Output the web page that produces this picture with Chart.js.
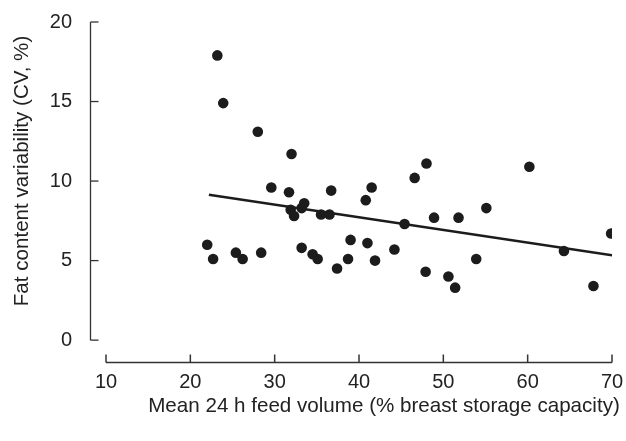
<!DOCTYPE html>
<html>
<head>
<meta charset="utf-8">
<script src="https://cdn.jsdelivr.net/npm/chart.js@4/dist/chart.umd.min.js"></script>
<style>
  html, body { margin: 0; padding: 0; background: #fff; }
  #wrap { width: 626px; height: 441px; position: relative; }
</style>
</head>
<body>
<div id="wrap"><canvas id="c" width="626" height="441"></canvas></div>
<script>
// Mean 24 h feed volume (% breast storage capacity)
const feedVolume = [23.2, 23.9, 28.0, 32.0, 29.6, 31.7, 36.7, 41.5, 40.8, 33.5,
                    33.2, 31.9, 32.3, 35.5, 36.5, 33.2, 34.5, 35.1, 39.0, 41.0,
                    38.7, 37.4, 41.9, 48.0, 46.6, 48.9, 51.8, 45.4, 44.2, 47.9,
                    50.6, 51.4, 53.9, 55.1, 60.2, 69.9, 64.3, 67.8, 22.0, 22.7,
                    25.4, 26.2, 28.4];
// Fat content variability (CV, %)
const fatCV = [17.9, 14.9, 13.1, 11.7, 9.6, 9.3, 9.4, 9.6, 8.8, 8.6,
               8.3, 8.2, 7.8, 7.9, 7.9, 5.8, 5.4, 5.1, 6.3, 6.1,
               5.1, 4.5, 5.0, 11.1, 10.2, 7.7, 7.7, 7.3, 5.7, 4.3,
               4.0, 3.3, 5.1, 8.3, 10.9, 6.7, 5.6, 3.4, 6.0, 5.1,
               5.5, 5.1, 5.5];
// Regression line end points
const fitX = [22.2, 70.0];
const fitY = [9.14, 5.33];
// Axis ticks
const xTicks = [10, 20, 30, 40, 50, 60, 70];
const yTicks = [0, 5, 10, 15, 20];
const xTitle = 'Mean 24 h feed volume (% breast storage capacity)';
const yTitle = 'Fat content variability (CV, %)';

const ink = '#1c1c1c';
const FONT = '"Liberation Sans", Arial, Helvetica, sans-serif';

const axesPlugin = {
  id: 'axesPlugin',
  afterDraw(chart) {
    const ctx = chart.ctx;
    const xs = chart.scales.x, ys = chart.scales.y;
    const ca = chart.chartArea;
    ctx.save();
    ctx.strokeStyle = '#333';
    ctx.lineWidth = 1.3;
    ctx.lineCap = 'butt';
    // y axis line
    const yx = ca.left + 0.5;
    const yTop = ys.getPixelForValue(yTicks[yTicks.length - 1]);
    const yBot = ys.getPixelForValue(yTicks[0]);
    ctx.beginPath();
    ctx.moveTo(yx, yTop);
    ctx.lineTo(yx, yBot);
    ctx.stroke();
    yTicks.forEach(v => {
      const p = ys.getPixelForValue(v);
      ctx.beginPath();
      ctx.moveTo(yx, p);
      ctx.lineTo(yx + 8, p);
      ctx.stroke();
    });
    // x axis line
    const xy = ca.bottom + 0.5;
    const xL = xs.getPixelForValue(xTicks[0]);
    const xR = xs.getPixelForValue(xTicks[xTicks.length - 1]);
    ctx.lineWidth = 1.5;
    ctx.beginPath();
    ctx.moveTo(xL, xy);
    ctx.lineTo(xR, xy);
    ctx.stroke();
    xTicks.forEach(v => {
      const p = xs.getPixelForValue(v);
      ctx.beginPath();
      ctx.moveTo(p, xy);
      ctx.lineTo(p, xy - 8);
      ctx.stroke();
    });
    // titles
    ctx.fillStyle = '#222';
    ctx.font = '20.6px ' + FONT;
    ctx.textAlign = 'center';
    ctx.textBaseline = 'middle';
    ctx.fillText(xTitle, 384, 406);
    ctx.save();
    ctx.translate(22, 171);
    ctx.rotate(-Math.PI / 2);
    ctx.fillText(yTitle, 0, 0);
    ctx.restore();
    ctx.restore();
  }
};

new Chart(document.getElementById('c'), {
  type: 'scatter',
  data: {
    datasets: [
      {
        label: 'Fat CV',
        data: feedVolume.map((x, i) => ({ x: x, y: fatCV[i] })),
        pointRadius: 5.3,
        pointHoverRadius: 5.3,
        backgroundColor: ink,
        borderWidth: 0
      },
      {
        type: 'line',
        label: 'Regression',
        data: fitX.map((x, i) => ({ x: x, y: fitY[i] })),
        borderColor: ink,
        borderWidth: 2.5,
        pointRadius: 0,
        fill: false,
        tension: 0
      }
    ]
  },
  options: {
    responsive: false,
    animation: false,
    events: [],
    layout: { padding: { top: 20, right: 14, left: 0, bottom: 0 } },
    plugins: { legend: { display: false }, tooltip: { enabled: false } },
    scales: {
      x: {
        type: 'linear',
        min: 8.102,
        max: 70,
        grid: { display: false },
        border: { display: false },
        afterBuildTicks: s => { s.ticks = xTicks.map(v => ({ value: v })); },
        afterFit: s => { s.height = 79; },
        ticks: { color: '#222', font: { size: 20, family: FONT }, padding: 0, maxRotation: 0, autoSkip: false }
      },
      y: {
        type: 'linear',
        min: -1.375,
        max: 20,
        grid: { display: false },
        border: { display: false },
        afterBuildTicks: s => { s.ticks = yTicks.map(v => ({ value: v })); },
        afterFit: s => { s.width = 90; },
        ticks: { color: '#222', font: { size: 20, family: FONT }, padding: 10, autoSkip: false }
      }
    }
  },
  plugins: [axesPlugin]
});
</script>
</body>
</html>
